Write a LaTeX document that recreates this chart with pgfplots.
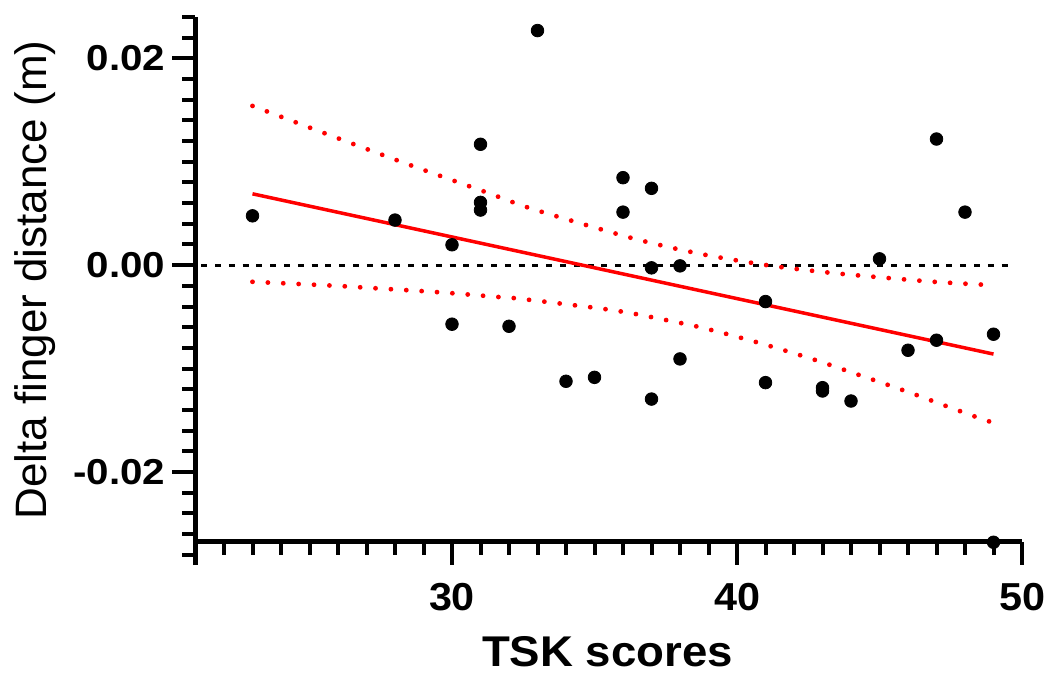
\documentclass[border=0pt]{standalone}
\usepackage{fontspec}
\setmainfont{Liberation Sans}
\newfontfamily\xfont{Liberation Sans}[FakeStretch=1.06]
\newfontfamily\widefont{Liberation Sans}[FakeStretch=1.12]
\usepackage{pgfplots}
\usepackage{pgfplotstable}
\pgfplotsset{compat=1.18}

\pgfplotstableread{
x y
23 0.00477
28 0.00436
30 0.00197
30 -0.00571
31 0.01169
31 0.00607
31 0.00533
32 -0.00591
33 0.02269
34 -0.01123
35 -0.01085
36 0.00846
36 0.00513
37 0.00743
37 -0.00026
37 -0.01295
38 -0.00007
38 -0.00907
41 -0.00352
41 -0.01136
43 -0.01185
43 -0.01217
44 -0.01314
45 0.00061
46 -0.00823
47 0.0122
47 -0.00726
48 0.00513
49 -0.00668
49 -0.0268
}\pointsdata

\pgfplotstableread{
x y
23 0.0154
25.76 0.01252
28.46 0.00975
31.18 0.00707
32.76 0.00549
35.56 0.0032
36.69 0.00235
37.81 0.00162
38.94 0.00097
40.08 0.00042
41.22 -0.00007
42.37 -0.00046
43.51 -0.0008
44.66 -0.00109
45.80 -0.00136
46.96 -0.00162
48.12 -0.00181
49 -0.00194
}\upperband

\pgfplotstableread{
x y
23 -0.00161
25.95 -0.0020
27.11 -0.0022
28.84 -0.00249
29.99 -0.00271
31.72 -0.0031
32.32 -0.00323
35.21 -0.00419
36.29 -0.00465
37.42 -0.00526
38.56 -0.00591
39.67 -0.00668
40.79 -0.00753
41.89 -0.00843
43.0 -0.0094
44.08 -0.01043
45.17 -0.01146
46.26 -0.01252
47.34 -0.01363
48.43 -0.01472
49 -0.01525
}\lowerband

\begin{document}
\begin{tikzpicture}
\begin{axis}[
  at={(0,0)}, anchor=south west,
  scale only axis, width=413.25pt, height=274pt,
  xmin=21, xmax=50, ymin=-0.029, ymax=0.024,
  axis x line=bottom, axis y line=left,
  axis x line shift=-11.65pt,
  axis line style={-, line width=2.5pt, black},
  clip=false,
  xtick={30,40,50}, xticklabels={30,40,50},
  minor xtick={22,23,24,25,26,27,28,29,31,32,33,34,35,36,37,38,39,41,42,43,44,45,46,47,48,49},
  ytick={-0.02,0,0.02}, yticklabels={-0.02,0.00,0.02},
  minor ytick={-0.028,-0.026,-0.024,-0.022,-0.018,-0.016,-0.014,-0.012,-0.01,-0.008,-0.006,-0.004,-0.002,0.002,0.004,0.006,0.008,0.01,0.012,0.014,0.016,0.018,0.022,0.024},
  scaled y ticks=false,
  tick align=outside,
  major tick length=11.5pt, minor tick length=6.5pt,
  tick style={line width=2pt, black},
  xticklabel style={font=\xfont\bfseries\fontsize{19.5}{20}\selectfont, yshift=-5.5pt},
  yticklabel style={font=\widefont\bfseries\fontsize{18}{18}\selectfont},
  xlabel={TSK scores},
  ylabel={Delta finger distance (m)},
  xlabel style={at={(rel axis cs:0.4985,-0.186)}, anchor=base, inner sep=0pt, text depth=0pt, font=\xfont\bfseries\fontsize{21.5}{22}\selectfont},
  ylabel style={at={(rel axis cs:-0.1798,0.52)}, anchor=base, rotate=0, font=\fontsize{22}{23}\selectfont},
]
\addplot[black, line width=1.5pt, dash pattern=on 3pt off 3.9pt] coordinates {(21.2,0) (49.7,0)};
\addplot[red, line width=1.75pt] coordinates {(23,0.0069) (49,-0.0086)};
\addplot[red, line width=2.4pt, line cap=round, dash pattern=on 0pt off 7.7pt, smooth] table[x=x,y=y] {\upperband};
\addplot[red, line width=2.4pt, line cap=round, dash pattern=on 0pt off 7.7pt, smooth] table[x=x,y=y] {\lowerband};
\addplot[only marks, mark=*, mark size=3.15pt, black, mark options={fill=black, draw=black}] table[x=x,y=y] {\pointsdata};
\end{axis}
\pgfresetboundingbox
\path[use as bounding box] (-97.75pt,-55pt) rectangle (425.75pt,282.5pt);
\end{tikzpicture}
\end{document}
